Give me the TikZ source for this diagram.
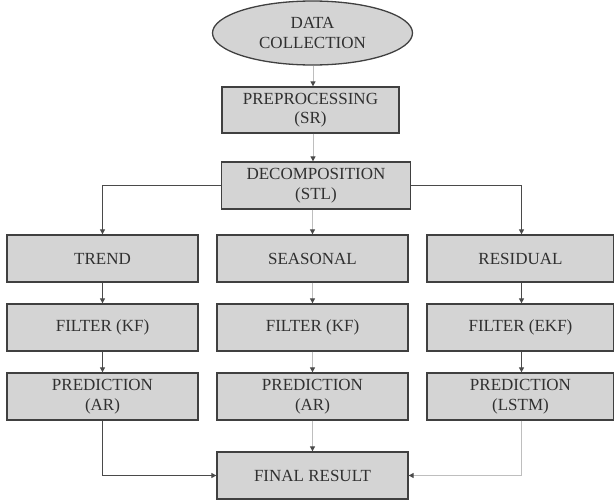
\documentclass[tikz,border=0pt]{standalone}
\usepackage{fontspec}
\setmainfont{Liberation Serif}
\usetikzlibrary{arrows.meta,shapes.geometric}
\definecolor{boxfill}{HTML}{D4D4D4}
\definecolor{boxline}{HTML}{404040}
\definecolor{darkln}{HTML}{4A4A4A}
\definecolor{lightln}{HTML}{BEBEBE}
\definecolor{txt}{HTML}{303030}
\tikzset{
  box/.style={draw=boxline, fill=boxfill, line width=1.3pt, minimum width=#1, minimum height=47pt, inner sep=0pt, align=center, text=txt, font=\fontsize{17}{19.5}\selectfont},
  box/.default=191pt,
  oval/.style={ellipse, draw=boxline, fill=boxfill, line width=1.3pt, minimum width=200pt, minimum height=64pt, inner sep=0pt, align=center, text=txt, font=\fontsize{17}{19.5}\selectfont},
  dk/.style={draw=darkln, line width=1pt, -{Triangle[width=5pt,length=5pt]}},
  lt/.style={draw=lightln, line width=1pt, arrows={-{Triangle[width=5pt,length=5pt,color=darkln]}}},
}
\begin{document}
\begin{tikzpicture}[x=1pt,y=-1pt]
\useasboundingbox (0,0) rectangle (614,501);
\node[oval] (dc) at (312.5,33) {DATA\\COLLECTION};
\node[box=177pt, minimum height=46pt] (pre) at (310.5,110) {PREPROCESSING\\(SR)};
\node[box=189pt] (dec) at (316,185.5) {DECOMPOSITION\\(STL)};
\node[box] (tr) at (102.5,258.5) {TREND};
\node[box] (se) at (312.5,258.5) {SEASONAL};
\node[box=187pt] (re) at (520.5,258.5) {RESIDUAL};
\node[box] (f1) at (102.5,327.5) {FILTER (KF)};
\node[box] (f2) at (312.5,327.5) {FILTER (KF)};
\node[box=187pt] (f3) at (520.5,327.5) {FILTER (EKF)};
\node[box] (p1) at (102.5,396.5) {PREDICTION\\(AR)};
\node[box] (p2) at (312.5,396.5) {PREDICTION\\(AR)};
\node[box=187pt] (p3) at (520.5,396.5) {PREDICTION\\(LSTM)};
\node[box] (fr) at (312.5,475.5) {FINAL RESULT};
\coordinate (cL) at (102.5,185.5);
\coordinate (cR) at (521.5,185.5);
\coordinate (bL) at (102.5,475.5);
\coordinate (bR) at (521.5,475.5);
\draw[lt] (dc.south -| 313,0) -- (pre.north -| 313,0);
\draw[lt] (pre.south -| 313,0) -- (dec.north -| 313,0);
\draw[dk] (dec.west) -- (cL) -- (tr.north);
\draw[dk] (dec.east) -- (cR) -- (re.north -| cR);
\draw[lt] (dec.south -| se.north) -- (se.north);
\draw[dk] (tr) -- (f1);
\draw[dk] (f1) -- (p1);
\draw[lt] (se) -- (f2);
\draw[lt] (f2) -- (p2);
\draw[dk] (re.south -| cR) -- (f3.north -| cR);
\draw[dk] (f3.south -| cR) -- (p3.north -| cR);
\draw[dk] (p1.south) -- (bL) -- (fr.west);
\draw[lt] (p2) -- (fr);
\draw[lt] (p3.south -| cR) -- (bR) -- (fr.east);
\end{tikzpicture}
\end{document}
